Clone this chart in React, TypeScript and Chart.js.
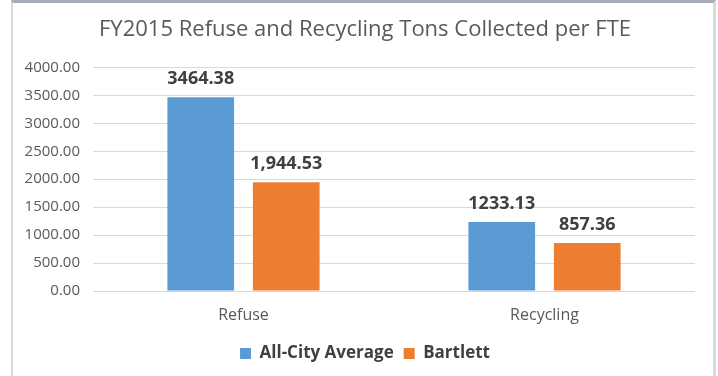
import React, { useEffect, useRef } from "react";
import { Chart, registerables } from "chart.js";

Chart.register(...registerables);

const titleText = "FY2015 Refuse and Recycling Tons Collected per FTE";
const categories = ["Refuse", "Recycling"];
const seriesNames = ["All-City Average", "Bartlett"];
const allCityAverage = [3464.38, 1233.13];
const bartlett = [1944.53, 857.36];
const allCityLabels = ["3464.38", "1233.13"];
const bartlettLabels = ["1,944.53", "857.36"];
const yMin = 0;
const yMax = 4000;
const yStep = 500;

const FONT = "'Open Sans', sans-serif";
const BLUE = "#5B9BD5";
const ORANGE = "#ED7D31";

const valueLabelPlugin = {
  id: "valueLabels",
  afterDatasetsDraw(chart: any) {
    const ctx = chart.ctx;
    const labelSets = [allCityLabels, bartlettLabels];
    ctx.save();
    ctx.font = `bold 18px ${FONT}`;
    ctx.fillStyle = "#404040";
    ctx.textAlign = "center";
    ctx.textBaseline = "alphabetic";
    chart.data.datasets.forEach((ds: any, di: number) => {
      const meta = chart.getDatasetMeta(di);
      meta.data.forEach((el: any, i: number) => {
        ctx.fillText(labelSets[di][i], el.x, el.y - 13);
      });
    });
    ctx.restore();
  },
};

export default function App() {
  const ref = useRef<HTMLCanvasElement | null>(null);
  useEffect(() => {
    if (!ref.current) return;
    const chart = new Chart(ref.current, {
      type: "bar",
      data: {
        labels: categories,
        datasets: [
          {
            label: seriesNames[0],
            data: allCityAverage,
            backgroundColor: BLUE,
            borderWidth: 0,
            categoryPercentage: 0.568,
            barPercentage: 0.78,
          },
          {
            label: seriesNames[1],
            data: bartlett,
            backgroundColor: ORANGE,
            borderWidth: 0,
            categoryPercentage: 0.568,
            barPercentage: 0.78,
          },
        ],
      },
      options: {
        animation: false,
        responsive: false,
        devicePixelRatio: 1,
        layout: { padding: { left: 12, right: 0, top: 0, bottom: 4 } },
        plugins: {
          title: {
            display: true,
            text: titleText,
            color: "#595959",
            font: { family: FONT, size: 22, weight: "normal" },
            padding: { top: 17, bottom: 24 },
          },
          legend: {
            display: true,
            position: "bottom",
            labels: {
              boxWidth: 11,
              boxHeight: 11,
              padding: 10,
              color: "#404040",
              font: { family: FONT, size: 17, weight: "bold" },
            },
          },
          tooltip: { enabled: false },
        },
        scales: {
          x: {
            grid: { display: false, drawTicks: false },
            border: { display: false },
            ticks: {
              color: "#595959",
              font: { family: FONT, size: 16 },
              padding: 15,
            },
            afterFit(scale: any) {
              scale.height = 44;
            },
          },
          y: {
            min: yMin,
            max: yMax,
            grid: { color: "#d9d9d9", drawTicks: false, lineWidth: 1 },
            border: { display: false },
            ticks: {
              stepSize: yStep,
              color: "#595959",
              font: { family: FONT, size: 15 },
              padding: 13,
              callback: (v: any) => Number(v).toFixed(2),
            },
            afterFit(scale: any) {
              scale.width = 81;
            },
          },
          yRight: {
            axis: "y",
            position: "right",
            display: true,
            min: yMin,
            max: yMax,
            grid: { display: false, drawTicks: false },
            border: { display: false },
            ticks: { display: false },
            afterFit(scale: any) {
              scale.width = 23;
            },
          },
        },
      },
      plugins: [valueLabelPlugin],
    });
    return () => chart.destroy();
  }, []);

  return (
    <div style={{ position: "absolute", left: 0, top: 0, width: 718, height: 376, background: "#ffffff", overflow: "hidden" }}>
      <div
        style={{
          position: "absolute",
          left: 11,
          top: 0,
          width: 700,
          height: 376,
          borderTop: "3px solid #a7adbb",
          borderLeft: "2px solid #dadada",
          borderRight: "3px solid #dadada",
        }}
      />
      <canvas ref={ref} width={718} height={376} style={{ position: "absolute", left: 0, top: 0 }} />
    </div>
  );
}
